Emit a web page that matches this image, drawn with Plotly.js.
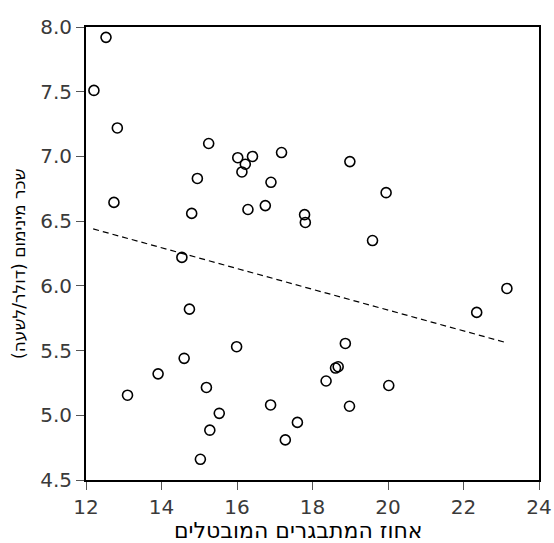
<!DOCTYPE html>
<html>
<head>
<meta charset="utf-8">
<script src="https://cdn.plot.ly/plotly-3.0.1.min.js"></script>
<style>html,body{margin:0;padding:0;background:#fff;}#chart{width:554px;height:543px;}</style>
</head>
<body>
<div id="chart"></div>
<script>
const unemployment = [12.53, 12.21, 12.83, 12.74, 15.25, 14.95, 14.80, 16.02, 16.22, 16.13, 16.41, 16.29, 16.75, 16.90, 17.18, 14.54,
  18.99, 19.95, 17.79, 17.81, 19.59,
  14.74, 15.99, 14.60, 13.91, 13.10, 15.19, 15.53, 15.28, 15.03, 16.89,
  23.15, 22.35, 18.87, 18.61, 18.68, 18.36, 20.02, 18.98, 17.60, 17.28];
const minWage = [7.92, 7.51, 7.22, 6.645, 7.10, 6.83, 6.56, 6.99, 6.94, 6.88, 7.00, 6.59, 6.62, 6.80, 7.03, 6.22,
  6.96, 6.72, 6.55, 6.49, 6.35,
  5.82, 5.53, 5.44, 5.32, 5.155, 5.215, 5.015, 4.885, 4.66, 5.08,
  5.98, 5.795, 5.555, 5.365, 5.375, 5.265, 5.23, 5.07, 4.945, 4.81];
const trendX = [12.19, 23.15];
const trendY = [6.44, 5.56];
const xTicks = [12, 14, 16, 18, 20, 22, 24];
const yTicks = [4.5, 5.0, 5.5, 6.0, 6.5, 7.0, 7.5, 8.0];
const xTitle = 'אחוז המתבגרים המובטלים';
const yTitle = 'שכר מינימום (דולר/לשעה)';

const traces = [
  {x: unemployment, y: minWage, type: 'scatter', mode: 'markers',
   marker: {symbol: 'circle-open', size: 10, color: '#000', line: {width: 1.6, color: '#000'}},
   hoverinfo: 'skip'},
  {x: trendX, y: trendY, type: 'scatter', mode: 'lines',
   line: {color: '#000', width: 1.2, dash: '6px,4px'}, hoverinfo: 'skip'}
];
const axisCommon = {
  showgrid: false, zeroline: false, showline: true, linecolor: '#000', linewidth: 2,
  mirror: true, ticks: 'outside', ticklen: 8, tickwidth: 1, tickcolor: '#555',
  tickfont: {family: 'DejaVu Sans', size: 20, color: '#3a3a3a'}
};
const layout = {
  width: 554, height: 543,
  margin: {l: 86, r: 15, t: 27, b: 63},
  paper_bgcolor: '#fff', plot_bgcolor: '#fff',
  showlegend: false,
  font: {family: 'DejaVu Sans', color: '#000'},
  xaxis: Object.assign({}, axisCommon, {
    range: [12, 24], tickvals: xTicks, ticktext: xTicks.map(String)
  }),
  yaxis: Object.assign({}, axisCommon, {
    range: [4.5, 8.0], tickvals: yTicks, ticktext: yTicks.map(v => v.toFixed(1))
  }),
  annotations: [
    {text: xTitle, xref: 'paper', yref: 'paper', x: 0.468, y: -0.112,
     xanchor: 'center', yanchor: 'middle', showarrow: false,
     font: {family: 'DejaVu Sans', size: 22, color: '#000'}},
    {text: yTitle, xref: 'paper', yref: 'paper', x: -0.148, y: 0.477,
     xanchor: 'center', yanchor: 'middle', showarrow: false, textangle: -90,
     font: {family: 'DejaVu Sans', size: 17, color: '#000'}}
  ]
};
Plotly.newPlot('chart', traces, layout, {staticPlot: true, displayModeBar: false});
</script>
</body>
</html>
